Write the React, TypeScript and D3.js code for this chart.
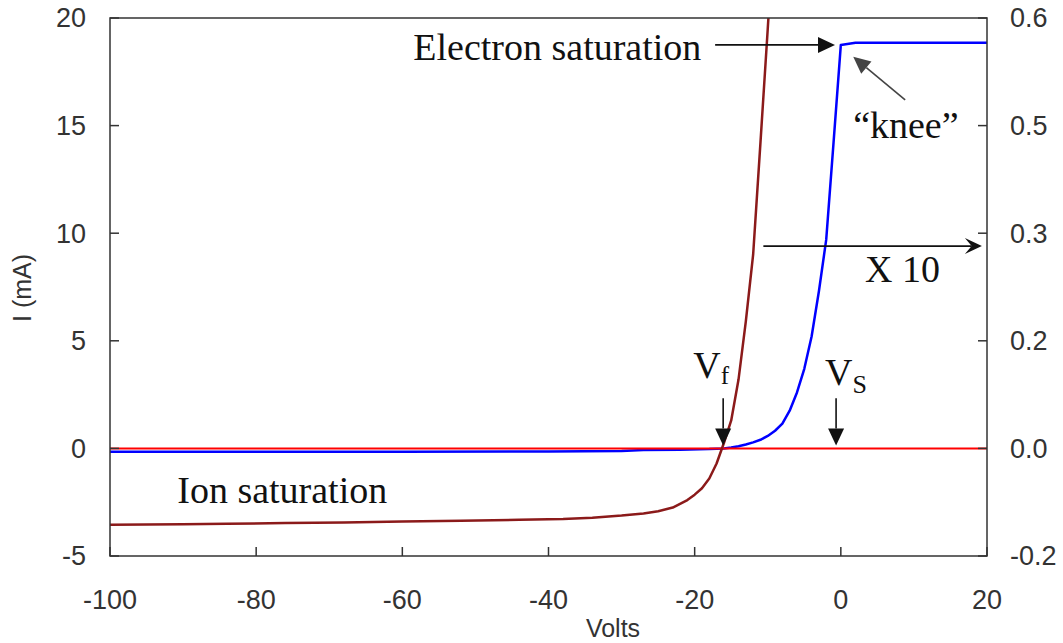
import React from "react";
import * as d3 from "d3";

// probe bias (V) and current (mA)
const probeVolts = [-100, -90, -84, -76, -68, -60, -52, -44, -38, -34, -30, -27, -25, -23, -21, -20, -19, -18, -17, -16, -15, -14, -13, -12, -11, -10, -9];
const probeCurrent = [-3.55, -3.53, -3.5, -3.47, -3.44, -3.4, -3.36, -3.32, -3.28, -3.22, -3.12, -3.02, -2.92, -2.75, -2.4, -2.15, -1.85, -1.4, -0.7, 0.25, 1.3, 3.2, 5.9, 9.0, 14.2, 19.5, 25.0];

// same curve, magnified x10
const zoomVolts = [-100, -80, -60, -40, -30, -27, -22, -18, -16, -15, -14, -13, -12, -11, -10, -9, -8, -7, -6, -5, -4, -3, -2, -1, 0, 2, 20];
const zoomCurrent = [-0.16, -0.15, -0.15, -0.14, -0.12, -0.08, -0.06, -0.03, 0.0, 0.04, 0.1, 0.18, 0.28, 0.4, 0.58, 0.82, 1.15, 1.75, 2.6, 3.7, 5.2, 7.3, 9.7, 14.2, 18.75, 18.85, 18.85];

const zeroLine = [-100, 20];

const xTicks = [-100, -80, -60, -40, -20, 0, 20];
const yTicks = [-5, 0, 5, 10, 15, 20];
const rightTickLabels = ["-0.2", "0.0", "0.2", "0.3", "0.5", "0.6"];

// annotation arrows, in data units
const arrows = [
  { from: [-17.2, 18.75], to: [-0.8, 18.75], head: "tri", color: "#111" },
  { from: [8.8, 16.2], to: [1.7, 18.2], head: "tri", color: "#444" },
  { from: [-10.6, 9.4], to: [19.3, 9.4], head: "barb", color: "#111" },
  { from: [-16.1, 2.33], to: [-16.1, 0.14], head: "tri", color: "#111" },
  { from: [-0.65, 2.33], to: [-0.65, 0.14], head: "tri", color: "#111" },
];

const notes = [
  { text: "Electron saturation", v: -58.5, i: 18.03, anchor: "start" },
  { text: "\u201Cknee\u201D", v: 8.9, i: 14.42, anchor: "middle" },
  { text: "X 10", v: 3.3, i: 7.73, anchor: "start" },
  { text: "Ion saturation", v: -90.8, i: -2.54, anchor: "start" },
];

const W = 1063;
const H = 643;
const m = { left: 110, right: 76, top: 18, bottom: 87 };

const serif = "'Liberation Serif', 'Times New Roman', serif";
const sans = "'Liberation Sans', Arial, sans-serif";

export default function App() {
  const x = d3.scaleLinear().domain([-100, 20]).range([m.left, W - m.right]);
  const y = d3.scaleLinear().domain([-5, 20]).range([H - m.bottom, m.top]);

  const path = (vs: number[], is: number[]) =>
    d3.line<number>().x((d) => x(d)).y((d, k) => y(is[k]))(vs) || "";

  const arrowHead = (x0: number, y0: number, x1: number, y1: number, kind: string) => {
    const a = Math.atan2(y1 - y0, x1 - x0);
    const len = 17;
    const half = 8;
    const bx = x1 - len * Math.cos(a);
    const by = y1 - len * Math.sin(a);
    const px = -Math.sin(a) * half;
    const py = Math.cos(a) * half;
    const p = d3.path();
    p.moveTo(x1, y1);
    p.lineTo(bx + px, by + py);
    if (kind === "barb") {
      p.lineTo(x1 - len * 0.6 * Math.cos(a), y1 - len * 0.6 * Math.sin(a));
    }
    p.lineTo(bx - px, by - py);
    p.closePath();
    return { d: p.toString(), bx, by, len: kind === "barb" ? 0.6 : 1 };
  };

  const x0 = m.left;
  const x1 = W - m.right;
  const y0 = m.top;
  const y1 = H - m.bottom;

  return (
    <svg width={W} height={H} style={{ position: "absolute", left: 0, top: 0, background: "#fff" }}>
      <defs>
        <clipPath id="plot">
          <rect x={x0} y={y0} width={x1 - x0} height={y1 - y0} />
        </clipPath>
      </defs>

      <g clipPath="url(#plot)" fill="none" strokeLinejoin="round">
        <path d={path(zoomVolts, zoomCurrent)} stroke="#0000ff" strokeWidth={2.5} />
        <path d={path(zeroLine, [0, 0])} stroke="#ff0000" strokeWidth={2} />
        <path d={path(probeVolts, probeCurrent)} stroke="#8b1a1a" strokeWidth={2.5} />
      </g>

      {/* frame */}
      <rect x={x0} y={y0} width={x1 - x0} height={y1 - y0} fill="none" stroke="#333" strokeWidth={1.5} />

      {/* ticks */}
      <g stroke="#333" strokeWidth={1.5}>
        {yTicks.map((t) => (
          <line key={"l" + t} x1={x0} x2={x0 + 9} y1={y(t)} y2={y(t)} />
        ))}
        {yTicks.map((t) => (
          <line key={"r" + t} x1={x1} x2={x1 - 9} y1={y(t)} y2={y(t)} />
        ))}
        {xTicks.map((t) => (
          <line key={"b" + t} x1={x(t)} x2={x(t)} y1={y1} y2={y1 - 9} />
        ))}
      </g>

      <g fontFamily={sans} fontSize={27} fill="#333">
        {yTicks.map((t) => (
          <text key={"lt" + t} x={x0 - 24} y={y(t)} dy="0.35em" textAnchor="end">
            {t}
          </text>
        ))}
        {yTicks.map((t, k) => (
          <text key={"rt" + t} x={x1 + 23} y={y(t)} dy="0.35em" textAnchor="start">
            {rightTickLabels[k]}
          </text>
        ))}
        {xTicks.map((t) => (
          <text key={"bt" + t} x={x(t)} y={y1 + 44} dy="0.35em" textAnchor="middle">
            {t}
          </text>
        ))}
      </g>

      <g fontFamily={sans} fontSize={25} fill="#333">
        <text x={613} y={637} textAnchor="middle">Volts</text>
        <text transform={`translate(31,288) rotate(-90)`} textAnchor="middle">I (mA)</text>
      </g>

      {/* annotations */}
      {arrows.map((a, k) => {
        const ax0 = x(a.from[0]);
        const ay0 = y(a.from[1]);
        const ax1 = x(a.to[0]);
        const ay1 = y(a.to[1]);
        const h = arrowHead(ax0, ay0, ax1, ay1, a.head);
        const ex = ax1 - (ax1 - h.bx) * h.len;
        const ey = ay1 - (ay1 - h.by) * h.len;
        return (
          <g key={"a" + k}>
            <line x1={ax0} y1={ay0} x2={ex} y2={ey} stroke={a.color} strokeWidth={1.6} />
            <path d={h.d} fill={a.color} />
          </g>
        );
      })}

      <g fontFamily={serif} fontSize={38} fill="#111">
        {notes.map((n) => (
          <text key={n.text} x={x(n.v)} y={y(n.i)} textAnchor={n.anchor as any}>
            {n.text}
          </text>
        ))}
        <text x={x(-20.2)} y={y(3.27)}>
          V<tspan fontSize={25} dy={6}>f</tspan>
        </text>
        <text x={x(-2.16)} y={y(2.95)}>
          V<tspan fontSize={26} dy={8}>S</tspan>
        </text>
      </g>
    </svg>
  );
}
